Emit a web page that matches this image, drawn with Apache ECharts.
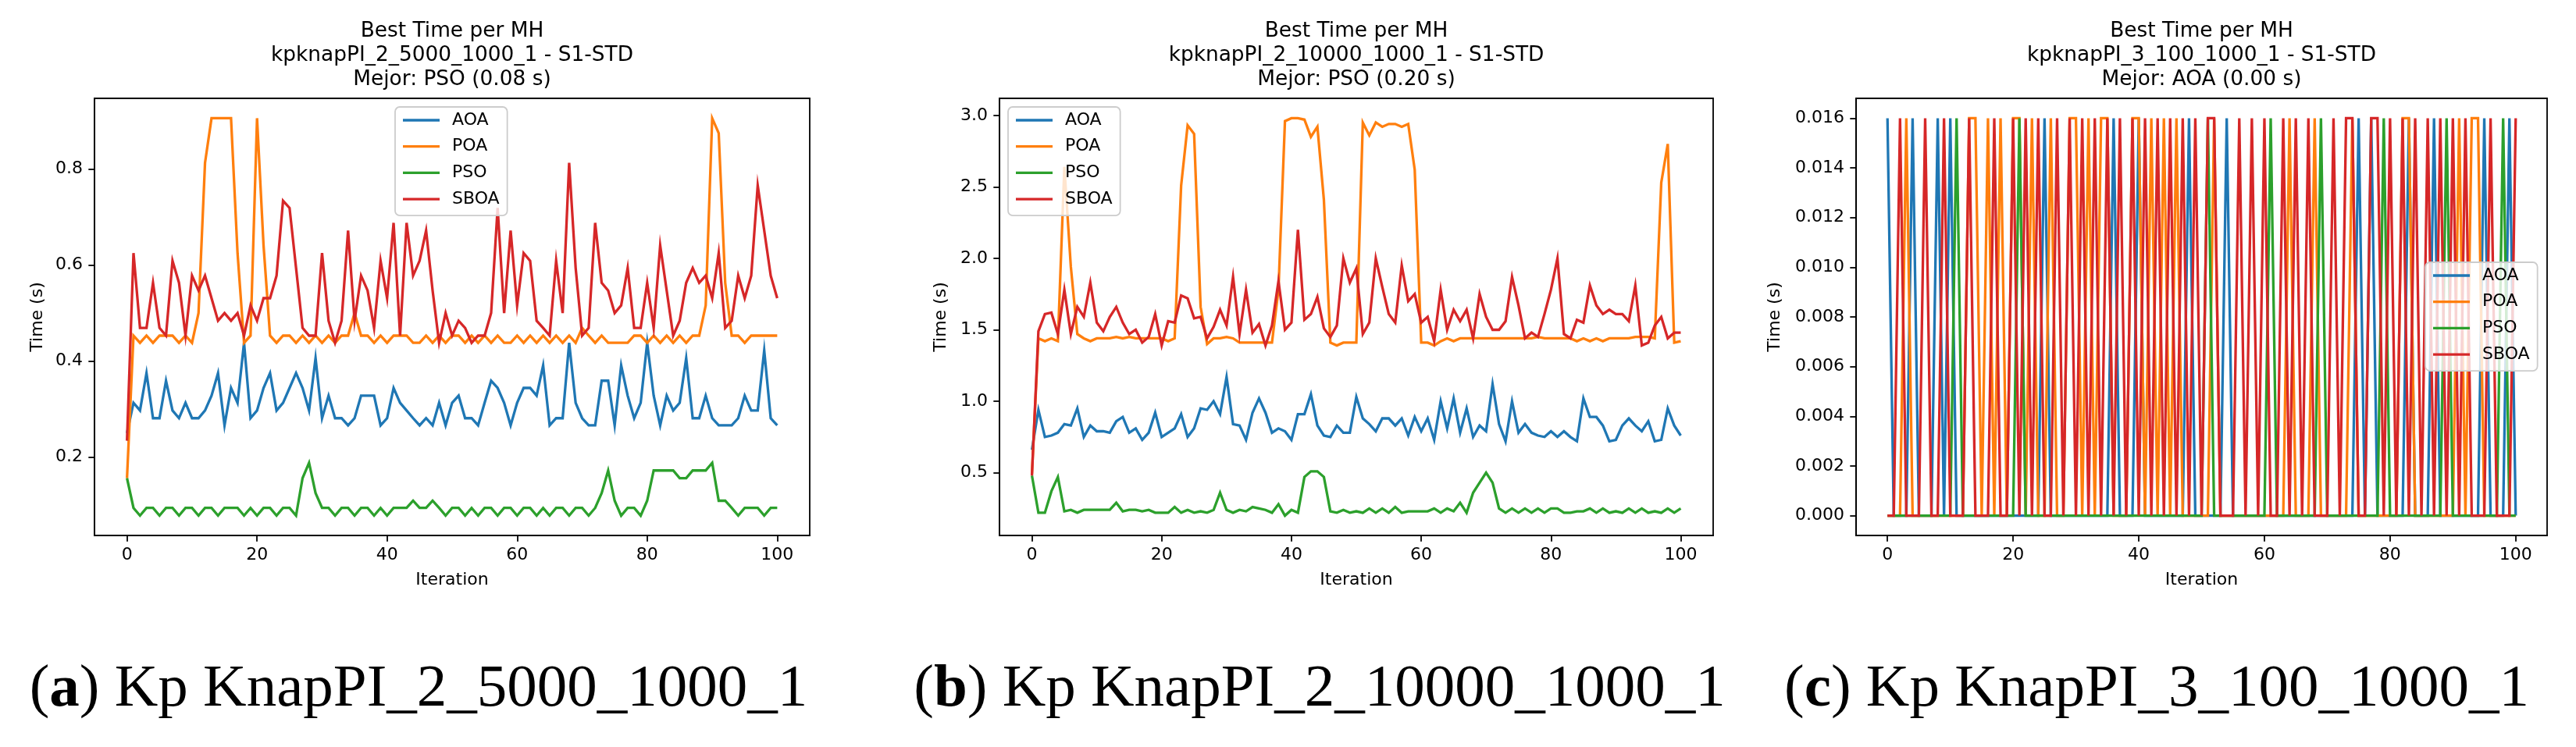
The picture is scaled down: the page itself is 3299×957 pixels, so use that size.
<!DOCTYPE html>
<html>
<head>
<meta charset="utf-8">
<script src="https://cdn.jsdelivr.net/npm/echarts@6/dist/echarts.min.js"></script>
<style>
  html, body { margin: 0; padding: 0; background: #ffffff; }
  #chart { width: 3299px; height: 957px; }
</style>
</head>
<body>
<div id="chart"></div>
<script>
// ---------- data ----------
const seriesNames = ['AOA', 'POA', 'PSO', 'SBOA'];
const seriesColors = ['#1f77b4', '#ff7f0e', '#2ca02c', '#d62728'];
const xTicks = [0, 20, 40, 60, 80, 100];

const panelTitles = [
  'Best Time per MH\nkpknapPI_2_5000_1000_1 - S1-STD\nMejor: PSO (0.08 s)',
  'Best Time per MH\nkpknapPI_2_10000_1000_1 - S1-STD\nMejor: PSO (0.20 s)',
  'Best Time per MH\nkpknapPI_3_100_1000_1 - S1-STD\nMejor: AOA (0.00 s)'
];
const captionLetters = ['a', 'b', 'c'];
const captionTexts = ['Kp KnapPI_2_5000_1000_1', 'Kp KnapPI_2_10000_1000_1', 'Kp KnapPI_3_100_1000_1'];

const yTicksA = [0.2, 0.4, 0.6, 0.8];
const yTicksB = [0.5, 1.0, 1.5, 2.0, 2.5, 3.0];
const yTicksC = [0.000, 0.002, 0.004, 0.006, 0.008, 0.010, 0.012, 0.014, 0.016];

// Panel (a): kpknapPI_2_5000_1000_1
const aoaA = [0.250,0.313,0.297,0.375,0.281,0.281,0.359,0.297,0.281,0.313,
  0.281,0.281,0.297,0.328,0.375,0.266,0.344,0.313,0.438,0.281,
  0.297,0.344,0.375,0.297,0.313,0.344,0.375,0.344,0.297,0.406,
  0.281,0.328,0.281,0.281,0.266,0.281,0.328,0.328,0.328,0.266,
  0.281,0.344,0.313,0.297,0.281,0.266,0.281,0.266,0.313,0.266,
  0.313,0.328,0.281,0.281,0.266,0.313,0.359,0.344,0.313,0.266,
  0.313,0.344,0.344,0.328,0.391,0.266,0.281,0.281,0.438,0.313,
  0.281,0.266,0.266,0.359,0.359,0.266,0.391,0.328,0.281,0.313,
  0.438,0.328,0.266,0.328,0.297,0.313,0.406,0.281,0.281,0.328,
  0.281,0.266,0.266,0.266,0.281,0.328,0.297,0.297,0.422,0.281,0.266];
const poaA = [0.156,0.453,0.438,0.453,0.438,0.453,0.453,0.453,0.438,0.453,
  0.438,0.500,0.813,0.906,0.906,0.906,0.906,0.625,0.438,0.453,
  0.906,0.641,0.453,0.438,0.453,0.453,0.438,0.453,0.438,0.453,
  0.438,0.453,0.438,0.453,0.453,0.500,0.453,0.453,0.438,0.453,
  0.438,0.453,0.453,0.453,0.438,0.438,0.453,0.438,0.453,0.438,
  0.453,0.453,0.438,0.453,0.438,0.453,0.438,0.453,0.438,0.438,
  0.453,0.438,0.453,0.438,0.453,0.438,0.453,0.438,0.453,0.438,
  0.469,0.453,0.438,0.453,0.438,0.438,0.438,0.438,0.453,0.453,
  0.438,0.453,0.438,0.453,0.438,0.453,0.438,0.453,0.453,0.516,
  0.906,0.875,0.563,0.453,0.453,0.438,0.453,0.453,0.453,0.453,0.453];
const psoA = [0.156,0.094,0.078,0.094,0.094,0.078,0.094,0.094,0.078,0.094,
  0.094,0.078,0.094,0.094,0.078,0.094,0.094,0.094,0.078,0.094,
  0.078,0.094,0.094,0.078,0.094,0.094,0.078,0.156,0.188,0.125,
  0.094,0.094,0.078,0.094,0.094,0.078,0.094,0.094,0.078,0.094,
  0.078,0.094,0.094,0.094,0.109,0.094,0.094,0.109,0.094,0.078,
  0.094,0.094,0.078,0.094,0.078,0.094,0.094,0.078,0.094,0.094,
  0.078,0.094,0.094,0.078,0.094,0.078,0.094,0.094,0.078,0.094,
  0.094,0.078,0.094,0.125,0.172,0.109,0.078,0.094,0.094,0.078,
  0.109,0.172,0.172,0.172,0.172,0.156,0.156,0.172,0.172,0.172,
  0.188,0.109,0.109,0.094,0.078,0.094,0.094,0.094,0.078,0.094,0.094];
const sboaA = [0.234,0.625,0.469,0.469,0.563,0.469,0.453,0.609,0.563,0.453,
  0.578,0.547,0.578,0.531,0.484,0.500,0.484,0.500,0.453,0.516,
  0.484,0.531,0.531,0.578,0.734,0.719,0.594,0.469,0.453,0.453,
  0.625,0.484,0.438,0.484,0.672,0.484,0.578,0.547,0.469,0.609,
  0.531,0.688,0.453,0.688,0.578,0.609,0.672,0.547,0.438,0.500,
  0.453,0.484,0.469,0.438,0.453,0.453,0.500,0.719,0.500,0.672,
  0.516,0.625,0.609,0.484,0.469,0.453,0.609,0.500,0.813,0.594,
  0.453,0.469,0.688,0.563,0.547,0.500,0.516,0.594,0.469,0.469,
  0.563,0.469,0.641,0.547,0.453,0.484,0.563,0.594,0.563,0.578,
  0.531,0.625,0.469,0.484,0.578,0.531,0.578,0.766,0.672,0.578,0.531];

// Panel (b): kpknapPI_2_10000_1000_1
const aoaB = [0.66,0.94,0.75,0.76,0.78,0.84,0.83,0.95,0.75,0.83,
  0.79,0.79,0.78,0.86,0.89,0.78,0.81,0.73,0.78,0.92,
  0.75,0.78,0.81,0.91,0.75,0.81,0.95,0.94,1.00,0.91,
  1.17,0.84,0.83,0.73,0.92,1.02,0.92,0.78,0.81,0.79,
  0.73,0.91,0.91,1.05,0.83,0.76,0.75,0.83,0.78,0.78,
  1.03,0.88,0.84,0.79,0.88,0.88,0.83,0.88,0.76,0.89,
  0.79,0.88,0.73,1.00,0.81,1.02,0.78,0.95,0.75,0.83,
  0.79,1.12,0.84,0.72,1.00,0.78,0.84,0.78,0.76,0.75,
  0.79,0.75,0.79,0.75,0.72,1.02,0.89,0.89,0.83,0.72,
  0.73,0.83,0.88,0.83,0.79,0.86,0.72,0.73,0.95,0.83,0.76];
const poaB = [0.49,1.44,1.42,1.44,1.42,2.64,1.94,1.47,1.44,1.42,
  1.44,1.44,1.44,1.45,1.44,1.45,1.44,1.44,1.44,1.44,
  1.44,1.42,1.44,2.51,2.93,2.87,1.66,1.40,1.44,1.44,
  1.45,1.44,1.41,1.41,1.41,1.41,1.41,1.41,1.78,2.96,
  2.98,2.98,2.97,2.85,2.92,2.41,1.41,1.39,1.41,1.41,
  1.41,2.95,2.86,2.95,2.92,2.94,2.94,2.92,2.94,2.62,
  1.41,1.41,1.39,1.42,1.44,1.42,1.44,1.44,1.44,1.44,
  1.44,1.44,1.44,1.44,1.44,1.44,1.44,1.44,1.45,1.44,
  1.44,1.44,1.44,1.44,1.42,1.44,1.42,1.44,1.42,1.44,
  1.44,1.44,1.44,1.45,1.45,1.45,1.44,2.53,2.80,1.41,1.42];
const psoB = [0.48,0.22,0.22,0.37,0.47,0.23,0.24,0.22,0.24,0.24,
  0.24,0.24,0.24,0.29,0.23,0.24,0.24,0.23,0.24,0.22,
  0.22,0.22,0.26,0.22,0.24,0.22,0.23,0.22,0.24,0.36,
  0.24,0.22,0.24,0.23,0.26,0.25,0.24,0.22,0.28,0.20,
  0.24,0.22,0.47,0.51,0.51,0.47,0.23,0.22,0.24,0.22,
  0.23,0.22,0.25,0.22,0.25,0.22,0.26,0.22,0.23,0.23,
  0.23,0.23,0.25,0.22,0.25,0.23,0.29,0.22,0.36,0.43,
  0.50,0.43,0.25,0.22,0.25,0.22,0.25,0.22,0.25,0.22,
  0.25,0.25,0.22,0.22,0.23,0.23,0.25,0.22,0.25,0.22,
  0.23,0.22,0.25,0.22,0.25,0.22,0.23,0.22,0.25,0.22,0.25];
const sboaB = [0.48,1.49,1.61,1.62,1.47,1.78,1.47,1.66,1.59,1.83,
  1.55,1.49,1.59,1.66,1.55,1.47,1.50,1.41,1.45,1.61,
  1.39,1.56,1.55,1.74,1.72,1.58,1.59,1.44,1.52,1.64,
  1.53,1.87,1.47,1.78,1.48,1.54,1.39,1.53,1.84,1.50,
  1.55,2.20,1.57,1.61,1.73,1.51,1.45,1.53,2.00,1.83,
  1.93,1.47,1.55,2.00,1.80,1.61,1.55,1.95,1.70,1.75,
  1.55,1.59,1.42,1.78,1.50,1.64,1.56,1.64,1.44,1.75,
  1.59,1.50,1.50,1.56,1.87,1.67,1.44,1.48,1.45,1.61,
  1.78,2.00,1.47,1.44,1.57,1.55,1.81,1.67,1.61,1.64,
  1.61,1.61,1.56,1.81,1.39,1.41,1.53,1.59,1.44,1.48,1.48];

// Panel (c): kpknapPI_3_100_1000_1
const aoaC = [0.016,0,0,0,0.016,0,0,0,0.016,0,
  0.016,0,0,0,0,0,0,0,0,0,
  0,0,0,0,0,0.016,0,0,0,0,
  0,0,0,0,0,0,0.016,0,0,0,
  0.016,0,0,0,0,0,0,0,0.016,0,
  0,0,0,0,0.016,0,0,0,0,0,
  0,0,0,0,0,0,0,0,0,0,
  0,0,0,0,0,0.016,0,0.016,0,0,
  0,0,0,0.016,0,0,0,0.016,0,0,
  0,0,0,0,0,0.016,0,0,0,0.016,0];
const poaC = [0,0,0,0.016,0,0,0,0,0,0,
  0,0,0,0.016,0.016,0,0.016,0,0.016,0,
  0.016,0.016,0,0.016,0,0,0.016,0,0,0.016,
  0.016,0,0.016,0,0.016,0.016,0,0,0,0.016,
  0.016,0,0.016,0,0.016,0,0.016,0,0,0,
  0,0,0.016,0,0,0,0,0,0,0,
  0,0,0,0,0.016,0,0,0,0.016,0,
  0,0,0,0,0.016,0,0,0,0,0,
  0,0,0.016,0.016,0,0,0,0,0,0,
  0,0.016,0,0.016,0.016,0,0,0,0,0,0];
const psoC = [0,0,0,0,0,0,0,0,0,0,
  0,0.016,0,0,0,0,0,0,0,0,
  0,0.016,0,0,0,0,0,0,0,0,
  0,0,0,0,0,0,0,0,0,0,
  0,0,0,0,0,0,0,0,0,0,
  0,0.016,0,0,0,0,0,0,0,0,
  0,0.016,0,0,0,0,0,0,0,0.016,
  0,0,0,0,0,0,0,0,0,0.016,
  0,0,0,0,0,0,0,0,0,0.016,
  0,0,0,0,0,0,0,0,0.016,0,0];
const sboaC = [0,0,0.016,0,0,0,0.016,0,0,0.016,
  0,0,0,0.016,0,0,0,0.016,0,0,
  0.016,0,0.016,0,0.016,0,0,0.016,0,0.016,
  0,0.016,0,0.016,0,0.016,0,0.016,0,0.016,
  0,0.016,0,0.016,0,0.016,0,0.016,0,0.016,
  0,0.016,0.016,0,0,0,0.016,0,0.016,0,
  0.016,0,0,0.016,0,0.016,0,0.016,0,0,
  0,0.016,0,0.016,0.016,0,0,0.016,0.016,0,
  0.016,0,0.016,0,0.016,0,0.016,0,0.016,0,
  0.016,0,0.016,0,0,0,0.016,0,0,0,0.016];

const panelData = [
  [aoaA, poaA, psoA, sboaA],
  [aoaB, poaB, psoB, sboaB],
  [aoaC, poaC, psoC, sboaC]
];
const panelYTicks = [yTicksA, yTicksB, yTicksC];
const panelYDecimals = [1, 1, 3];

// ---------- layout (pixels) ----------
const FONT = 'DejaVu Sans';
const grids = [
  { left: 121, top: 126, width: 916, height: 560 },
  { left: 1280, top: 126, width: 914, height: 560 },
  { left: 2377, top: 126, width: 885, height: 560 }
];
const legendPos = [
  { left: 506, top: 137 },
  { left: 1291, top: 137 },
  { left: 3106, top: 336 }
];
const yNameGaps = [62, 64, 93];
const captionCenters = [536, 1690, 2762];

function paddedRange(arrs) {
  let lo = Infinity, hi = -Infinity;
  arrs.forEach(a => a.forEach(v => { if (v < lo) lo = v; if (v > hi) hi = v; }));
  const pad = (hi - lo) * 0.05;
  return [lo - pad, hi + pad];
}

const option = {
  backgroundColor: '#ffffff',
  animation: false,
  title: [],
  legend: [],
  grid: [],
  xAxis: [],
  yAxis: [],
  series: []
};

for (let g = 0; g < 3; g++) {
  const gr = grids[g];
  option.grid.push({
    left: gr.left, top: gr.top, width: gr.width, height: gr.height,
    show: true, borderColor: '#000', borderWidth: 1.8, backgroundColor: 'transparent',
    containLabel: false
  });
  option.title.push({
    text: panelTitles[g],
    left: gr.left + gr.width / 2,
    top: 25,
    textAlign: 'center',
    padding: 0,
    textStyle: { fontFamily: FONT, fontSize: 26.4, fontWeight: 'normal', color: '#000', lineHeight: 31 }
  });
  option.title.push({
    text: '({b|' + captionLetters[g] + '}) ' + captionTexts[g],
    left: captionCenters[g],
    top: 838,
    textAlign: 'center',
    padding: 0,
    textStyle: {
      fontFamily: 'Liberation Serif', fontSize: 77, fontWeight: 'normal', color: '#000', lineHeight: 92,
      rich: { b: { fontFamily: 'Liberation Serif', fontSize: 77, fontWeight: 'bold', color: '#000', lineHeight: 92 } }
    }
  });
  option.legend.push({
    orient: 'vertical',
    left: legendPos[g].left, top: legendPos[g].top,
    icon: 'rect', itemWidth: 47, itemHeight: 3.3, itemGap: 9.7,
    padding: [5, 10, 9, 10],
    backgroundColor: 'rgba(255,255,255,0.8)',
    borderColor: '#cccccc', borderWidth: 1.8, borderRadius: 6,
    selectedMode: false,
    textStyle: { fontFamily: FONT, fontSize: 22, color: '#000', lineHeight: 24, padding: [0, 0, 0, 11] },
    data: seriesNames.slice()
  });
  option.xAxis.push({
    gridIndex: g, type: 'value', min: -5, max: 105,
    name: 'Iteration', nameLocation: 'middle', nameGap: 46,
    nameTextStyle: { fontFamily: FONT, fontSize: 22, color: '#000' },
    axisLine: { show: true, onZero: false, lineStyle: { color: '#000', width: 1.8 } },
    axisTick: { show: true, length: 7.7, lineStyle: { color: '#000', width: 1.8 }, customValues: xTicks },
    axisLabel: { show: true, customValues: xTicks, fontFamily: FONT, fontSize: 22, color: '#000', margin: 14 },
    splitLine: { show: false }
  });
  const rng = paddedRange(panelData[g]);
  const dec = panelYDecimals[g];
  option.yAxis.push({
    gridIndex: g, type: 'value', min: rng[0], max: rng[1],
    name: 'Time (s)', nameLocation: 'middle', nameGap: yNameGaps[g],
    nameTextStyle: { fontFamily: FONT, fontSize: 22, color: '#000' },
    axisLine: { show: true, onZero: false, lineStyle: { color: '#000', width: 1.8 } },
    axisTick: { show: true, length: 7.7, lineStyle: { color: '#000', width: 1.8 }, customValues: panelYTicks[g] },
    axisLabel: { show: true, customValues: panelYTicks[g], fontFamily: FONT, fontSize: 22, color: '#000', margin: 15,
      formatter: v => Number(v).toFixed(dec) },
    splitLine: { show: false }
  });
  for (let s = 0; s < 4; s++) {
    const vals = panelData[g][s];
    const pts = vals.map((v, i) => [i, v]);
    option.series.push({
      type: 'line', name: seriesNames[s], xAxisIndex: g, yAxisIndex: g,
      data: pts, showSymbol: false, symbol: 'none',
      lineStyle: { width: 3.3, color: seriesColors[s], join: 'miter' },
      itemStyle: { color: seriesColors[s] },
      emphasis: { disabled: true },
      silent: true
    });
  }
}

const chart = echarts.init(document.getElementById('chart'), null, { renderer: 'canvas', width: 3299, height: 957 });
chart.setOption(option);
</script>
</body>
</html>
